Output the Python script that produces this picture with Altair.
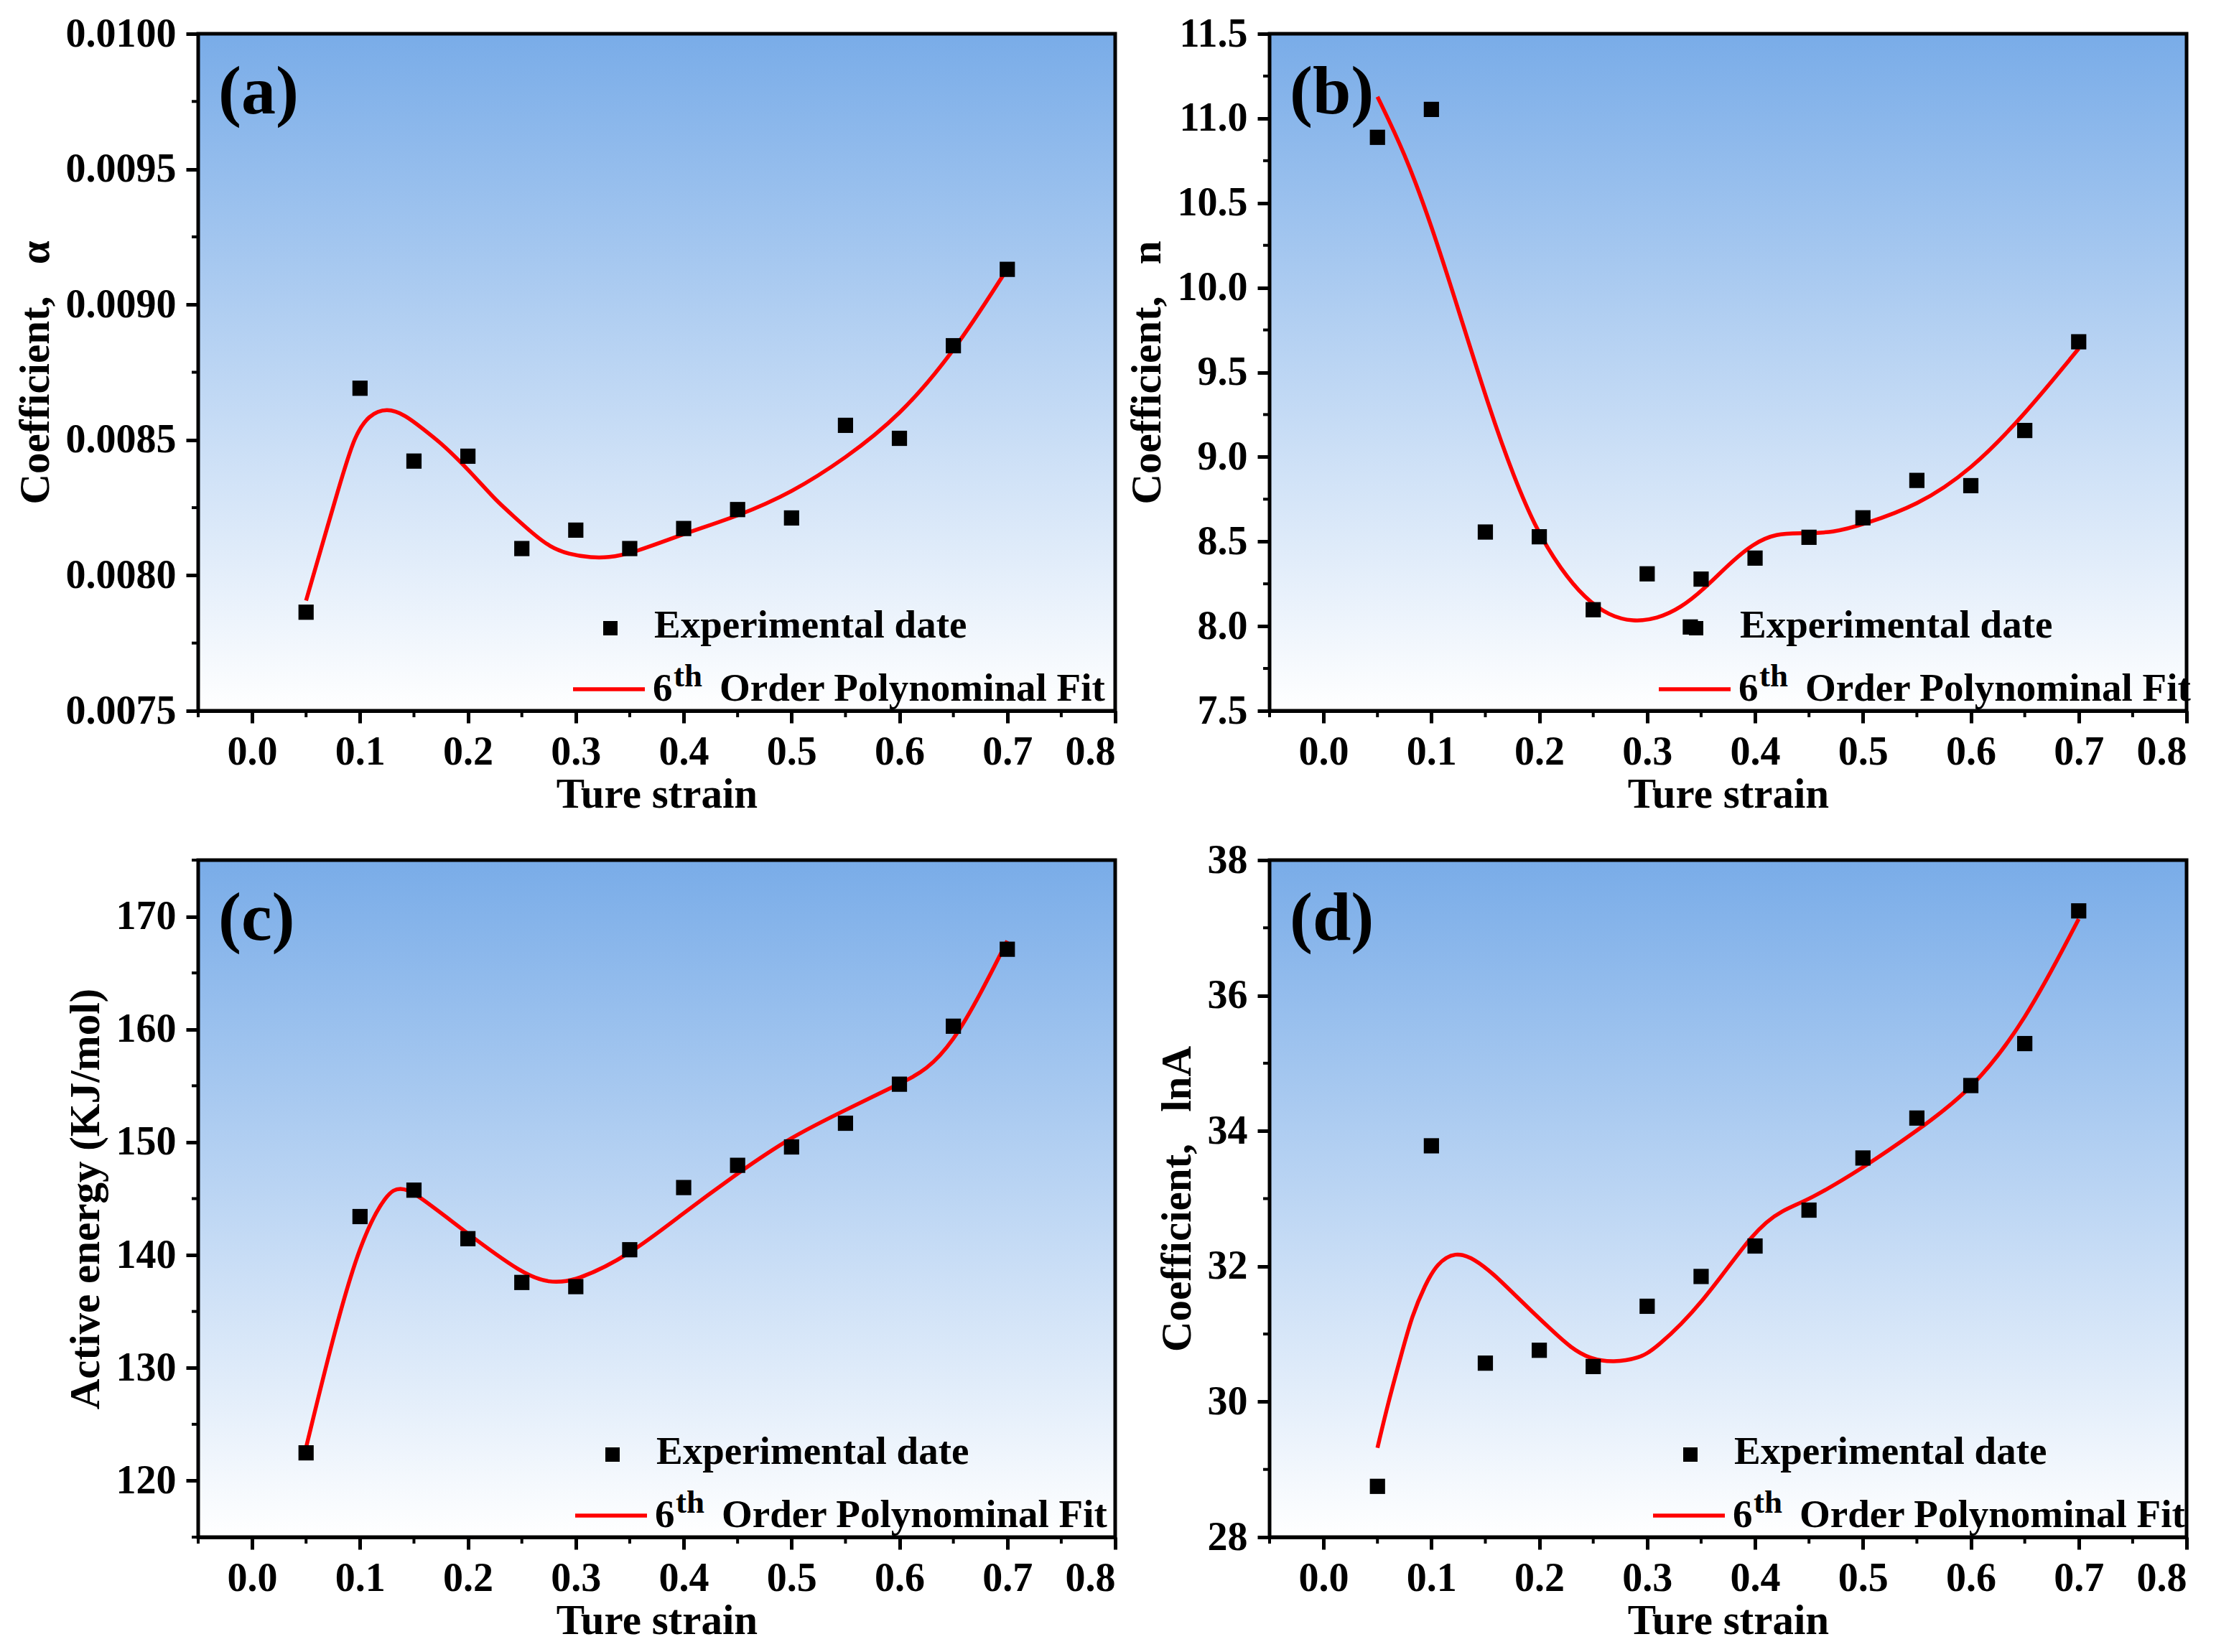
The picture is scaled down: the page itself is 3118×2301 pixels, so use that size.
import altair as alt
import pandas as pd

# experimental points (same strain levels in every panel)
strain = [0.05, 0.1, 0.15, 0.2, 0.25, 0.3, 0.35, 0.4, 0.45, 0.5, 0.55, 0.6, 0.65, 0.7]
strain_b = [0.05, 0.1, 0.15, 0.2, 0.25, 0.3, 0.34, 0.35, 0.4, 0.45, 0.5, 0.55, 0.6, 0.65, 0.7]

alpha_pts = [0.007864, 0.008691, 0.008422, 0.008440, 0.008099, 0.008167, 0.008099,
             0.008173, 0.008243, 0.008212, 0.008554, 0.008506, 0.008848, 0.009130]
n_pts = [10.888, 11.053, 8.556, 8.528, 8.097, 8.309, 7.995, 8.278, 8.402, 8.525,
         8.64, 8.861, 8.83, 9.156, 9.68]
q_pts = [122.47, 143.41, 145.75, 141.45, 137.57, 137.2, 140.47, 145.98, 147.95,
         149.58, 151.68, 155.14, 160.28, 167.1]
lna_pts = [28.75, 33.78, 30.57, 30.76, 30.52, 31.41, 31.85, 32.30, 32.83, 33.60,
           34.19, 34.67, 35.29, 37.25]

# points
alpha_fit_x = [0.05, 0.082, 0.095, 0.108, 0.125, 0.142, 0.158, 0.175, 0.193,
               0.21, 0.226, 0.243, 0.26, 0.276, 0.293, 0.315, 0.33, 0.35, 0.4, 0.45,
               0.5, 0.55, 0.6, 0.65, 0.7]
alpha_fit_y = [0.007907, 0.008348, 0.008516, 0.008592, 0.008619, 0.008592,
               0.008542, 0.008489, 0.008420, 0.008348, 0.008277, 0.008216, 0.008155,
               0.008105, 0.008078, 0.008065, 0.008066, 0.008078, 0.008154, 0.008218,
               0.008305, 0.008432, 0.008588, 0.008821, 0.009132]
n_fit_x = [0.05, 0.075, 0.1, 0.125, 0.154, 0.176, 0.198, 0.22, 0.242, 0.265, 0.287,
           0.309, 0.331, 0.353, 0.375, 0.398, 0.42, 0.442, 0.473, 0.5, 0.55, 0.6,
           0.65, 0.7]
n_fit_y = [11.128, 10.80, 10.37, 9.87, 9.28, 8.887, 8.56, 8.336, 8.166, 8.06, 8.026,
           8.043, 8.107, 8.221, 8.361, 8.488, 8.548, 8.548, 8.552, 8.60, 8.71, 8.92,
           9.25, 9.64]
q_fit_x = [0.05, 0.075, 0.1, 0.125, 0.1375, 0.15, 0.2, 0.25, 0.275, 0.3, 0.35, 0.4,
           0.45, 0.5, 0.55, 0.6, 0.625, 0.65, 0.675, 0.7]
q_fit_y = [122.94, 132.75, 141.17, 145.6, 146.0, 145.6, 141.87, 138.37, 137.5, 137.67,
           140.0, 143.74, 147.25, 150.5, 152.85, 155.19, 156.35, 158.92, 163.1, 167.85]
lna_fit_x = [0.05, 0.06, 0.072, 0.082, 0.094, 0.105, 0.122, 0.14, 0.158, 0.176, 0.194,
             0.212, 0.229, 0.247, 0.269, 0.292, 0.307, 0.35, 0.4, 0.425, 0.45, 0.5,
             0.55, 0.6, 0.65, 0.7]
lna_fit_y = [29.32, 29.99, 30.69, 31.27, 31.72, 32.04, 32.22, 32.11, 31.88, 31.60,
             31.32, 31.05, 30.80, 30.63, 30.58, 30.64, 30.77, 31.42, 32.55, 32.83,
             32.98, 33.45, 34.0, 34.59, 35.6, 37.13]

# axis ticks
x_ticks = [0.0, 0.1, 0.2, 0.3, 0.4, 0.5, 0.6, 0.7, 0.8]
x_minor = [-0.05, 0.05, 0.15, 0.25, 0.35, 0.45, 0.55, 0.65, 0.75]
alpha_ticks = [0.0075, 0.0080, 0.0085, 0.0090, 0.0095, 0.0100]
alpha_minor = [0.00775, 0.00825, 0.00875, 0.00925, 0.00975]
n_ticks = [7.5, 8.0, 8.5, 9.0, 9.5, 10.0, 10.5, 11.0, 11.5]
n_minor = [7.75, 8.25, 8.75, 9.25, 9.75, 10.25, 10.75, 11.25]
q_ticks = [120, 130, 140, 150, 160, 170]
q_minor = [115, 125, 135, 145, 155, 165, 175]
lna_ticks = [28, 30, 32, 34, 36, 38]
lna_minor = [29, 31, 33, 35, 37]

W, H = 1277, 943
FONT = 'Liberation Serif'
GAP = '\u2002\u00a0'  # wide gap after the comma in the y titles

bg_fill = alt.LinearGradient(
    gradient='linear',
    stops=[alt.GradientStop(color='#79ACE8', offset=0),
           alt.GradientStop(color='#FFFFFF', offset=1)],
    x1=0, x2=0, y1=0, y2=1,
)

one = pd.DataFrame({'k': [0]})


def label(text, x, y, size):
    return alt.Chart(one).mark_text(
        text=text, font=FONT, fontSize=size, fontWeight='bold', color='black',
        align='left', baseline='alphabetic'
    ).encode(x=alt.value(x), y=alt.value(y))


def panel(px, py, fx, fy, ydom, yticks, yminor, yfmt, ytitle, tag, dx):
    pts = pd.DataFrame({'strain': px, 'value': py})
    fit = pd.DataFrame({'strain': fx, 'value': fy})

    xenc = alt.X('strain:Q', scale=alt.Scale(domain=[-0.05, 0.8], nice=False, zero=False),
                 axis=alt.Axis(values=x_ticks, format='.1f', title='Ture strain'))
    yenc = alt.Y('value:Q', scale=alt.Scale(domain=ydom, nice=False, zero=False),
                 axis=alt.Axis(values=yticks, format=yfmt, title=ytitle))

    bg = alt.Chart(one).mark_rect(fill=bg_fill, stroke='black', strokeWidth=5).encode(
        x=alt.value(0), x2=alt.value(W), y=alt.value(0), y2=alt.value(H)
    )
    ymin = alt.Chart(pd.DataFrame({'value': yminor})).mark_rule(
        color='black', strokeWidth=4).encode(y=yenc, x=alt.value(0), x2=alt.value(-9))
    xmin = alt.Chart(pd.DataFrame({'strain': x_minor})).mark_rule(
        color='black', strokeWidth=4).encode(x=xenc, y=alt.value(H), y2=alt.value(H + 9))

    line = alt.Chart(fit).mark_line(color='#FF0000', strokeWidth=5.5,
                                    interpolate='basis').encode(x=xenc, y=yenc)
    dots = alt.Chart(pts).mark_point(shape='square', filled=True, size=450,
                                     color='black', opacity=1).encode(x=xenc, y=yenc)

    # legend drawn inside the plot, as in the figure
    leg_sq = alt.Chart(one).mark_point(shape='square', filled=True, size=400,
                                       color='black', opacity=1).encode(
        x=alt.value(574 + dx), y=alt.value(828))
    leg_ln = alt.Chart(one).mark_rule(color='#FF0000', strokeWidth=5.5).encode(
        x=alt.value(522 + dx), x2=alt.value(622 + dx), y=alt.value(913))

    return alt.layer(
        bg, ymin, xmin, line, dots,
        label(tag, 28, 111, 96),
        leg_sq, label('Experimental date', 635 + dx, 841, 55),
        leg_ln, label('6', 633 + dx, 929, 55), label('th', 662 + dx, 909, 45),
        label('Order Polynominal Fit', 726 + dx, 929, 55),
    ).properties(width=W, height=H)


a = panel(strain, alpha_pts, alpha_fit_x, alpha_fit_y, [0.0075, 0.0100], alpha_ticks,
          alpha_minor, '.4f', 'Coefficient,' + GAP + 'α', '(a)', 0)
b = panel(strain_b, n_pts, n_fit_x, n_fit_y, [7.5, 11.5], n_ticks, n_minor, '.1f',
          'Coefficient,' + GAP + 'n', '(b)', 20)
c = panel(strain, q_pts, q_fit_x, q_fit_y, [115, 175], q_ticks, q_minor, 'd',
          'Active energy (KJ/mol)', '(c)', 3)
d = panel(strain, lna_pts, lna_fit_x, lna_fit_y, [28, 38], lna_ticks, lna_minor, 'd',
          'Coefficient,' + GAP + 'lnA', '(d)', 12)

chart = alt.concat(
    a, b, c, d, columns=2, spacing={'row': 208, 'column': 215}, bounds='flush'
).properties(
    padding={'left': 12, 'top': 11, 'right': 10, 'bottom': 10}
).configure_view(
    strokeWidth=0
).configure_axis(
    labelFont=FONT, labelFontSize=56, labelFontWeight='bold', labelColor='black',
    titleFont=FONT, titleFontSize=59, titleFontWeight='bold', titleColor='black',
    domainColor='black', domainWidth=5, tickColor='black', tickWidth=5, tickSize=17,
    grid=False, zindex=1
).configure_axisX(
    labelPadding=13, titlePadding=2
).configure_axisY(
    labelPadding=14, titlePadding=12
)

chart.save('out.html', embed_options={'renderer': 'svg', 'actions': False})
